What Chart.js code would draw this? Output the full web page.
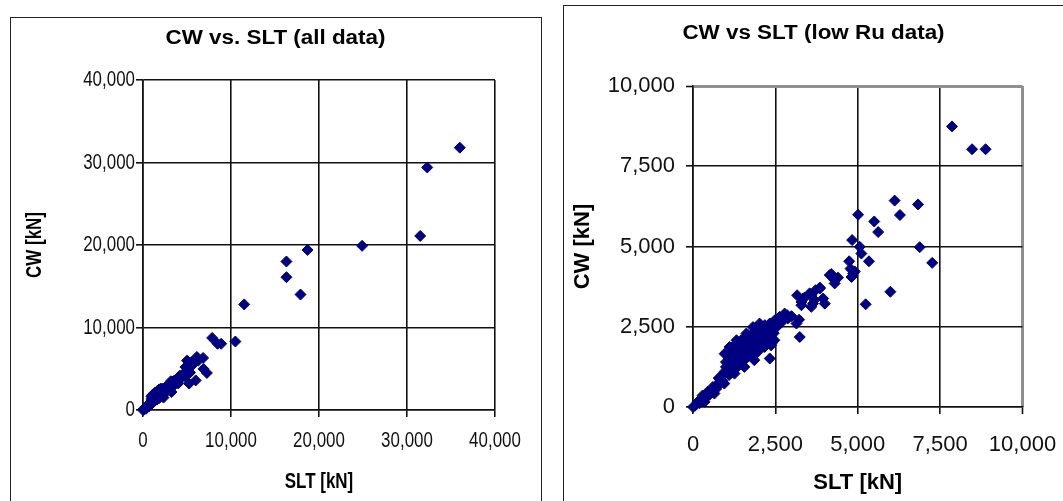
<!DOCTYPE html>
<html>
<head>
<meta charset="utf-8">
<script src="https://cdn.jsdelivr.net/npm/chart.js@4.4.1/dist/chart.umd.min.js"></script>
<style>
  html, body { margin: 0; padding: 0; background: #fff; width: 1063px; height: 501px; overflow: hidden; }
  .panel { position: absolute; border: 1.5px solid #222; box-sizing: border-box; }
  #p1 { left: 10px; top: 17px; width: 532px; height: 600px; }
  #p2 { left: 563px; top: 5px; width: 600px; height: 600px; }
  canvas { position: absolute; }
  #c1 { left: 11px; top: 18px; }
  #c2 { left: 564px; top: 6px; }
</style>
</head>
<body>
<div class="panel" id="p1"></div>
<div class="panel" id="p2"></div>
<canvas id="c1" width="529" height="483"></canvas>
<canvas id="c2" width="499" height="495"></canvas>
<script>
// ---- Data ----
// Low Ru data: SLT [kN] and CW [kN], paired by index
const lowRuSLT = [
  7860, 8470, 8880, 6120, 6830, 6280, 5010, 5500, 5620, 4830,
  5060, 5110, 6880, 7260, 5340, 4740, 4780, 4860, 4810, 4910,
  5990, 5240, 4200, 4300, 4400, 4150, 4300, 3850, 3720, 3590,
  3390, 3290, 3690, 3950, 4000, 3640, 3850, 3540, 3160, 3340,
  3590, 3290, 2780, 2990, 3220, 2630, 3140, 3240, 2480, 2330,
  2020, 1820, 2180, 1620, 1920, 2280, 1520, 2020, 2380, 1720,
  2880, 2680, 2580, 2860, 0, 60, 140, 200, 290, 350,
  300, 440, 500, 600, 650, 750, 700, 850, 950, 950,
  900, 1000, 1050, 1050, 1150, 1200, 1260, 1260, 1310, 1360,
  1460, 1460, 1560, 1560, 1610, 1660, 1760, 1810, 1860, 1860,
  1960, 2010, 2060, 2170, 2320, 2470, 2370, 2330, 960, 1110,
  1320, 1670, 1920, 2180, 400, 550, 800, 1100, 1400, 1700,
  2000, 2200, 1300, 1600, 1900, 2100, 2250, 1150, 1450, 1750,
  2400, 2550, 2450, 1200, 250, 100, 780, 1250, 1000, 1100,
  1350, 1500, 1650, 1800, 2050, 2150, 2300, 2600, 2700, 1900,
  2250, 1400, 1750
];
const lowRuCW = [
  8740, 8030, 8030, 6430, 6310, 5980, 5990, 5780, 5450, 5200,
  4990, 4780, 4980, 4490, 4540, 4540, 4310, 4160, 4050, 4220,
  3590, 3200, 4140, 3950, 4030, 4110, 3850, 3720, 3640, 3480,
  3410, 3270, 3330, 3380, 3220, 3220, 3690, 3540, 3480, 3380,
  3120, 3170, 2910, 2830, 2720, 2810, 2600, 2180, 2700, 2600,
  2600, 2490, 2440, 2290, 2240, 2340, 2080, 2030, 1980, 1870,
  2760, 2760, 2710, 2860, 0, 40, 160, 120, 360, 160,
  250, 470, 380, 620, 420, 730, 560, 940, 730, 1090,
  820, 1400, 1140, 1610, 1350, 1770, 1040, 1350, 1980, 1560,
  2080, 1660, 1460, 1250, 2180, 1770, 1820, 2290, 1980, 1460,
  1710, 2340, 2080, 1870, 2290, 2080, 1920, 1510, 1660, 1870,
  2080, 2240, 2450, 2550, 300, 500, 700, 1000, 1300, 1600,
  1900, 2100, 1200, 1500, 1750, 2200, 2000, 1550, 1800, 2050,
  2450, 2500, 2300, 1150, 200, 80, 900, 1600, 1250, 1500,
  1700, 1900, 1950, 2100, 2300, 2400, 2450, 2600, 2650, 2000,
  2250, 1450, 1700
];
// Additional points that appear only in the "all data" chart
const highRuSLT = [36000, 32300, 31500, 24900, 18700, 16300, 16300, 17900, 11500, 10500];
const highRuCW  = [31800, 29400, 21100, 19900, 19400, 18000, 16100, 14000, 12800, 8300];

// Tick values and labels
const allTicks = [0, 10000, 20000, 30000, 40000];
const allTickLabels = ['0', '10,000', '20,000', '30,000', '40,000'];
const lowTicks = [0, 2500, 5000, 7500, 10000];
const lowTickLabels = ['0', '2,500', '5,000', '7,500', '10,000'];

const titleAll = 'CW vs. SLT (all data)';
const titleLow = 'CW vs SLT (low Ru data)';
const xTitle = 'SLT [kN]';
const yTitle = 'CW [kN]';

// ---- Chart building ----
const FONT = "'Liberation Sans', Arial, Helvetica, sans-serif";
const MARK = '#000080';

function pairs(xs, ys) { return xs.map((x, i) => ({ x: x, y: ys[i] })); }

// Horizontal text-width adjustment (the reference's text is narrower / wider than Arial)
const textScale = {
  id: 'textScale',
  beforeInit(chart, args, opts) {
    const proto = CanvasRenderingContext2D.prototype.fillText;
    const map = opts.bySize || {};
    chart.ctx.fillText = function (text, x, y, maxWidth) {
      const m = /(\d+(?:\.\d+)?)px/.exec(this.font);
      const s = m && map[m[1]] ? map[m[1]] : 1;
      if (s === 1) return proto.call(this, text, x, y);
      this.save();
      this.translate(x, y);
      this.scale(s, 1);
      proto.call(this, text, 0, 0);
      this.restore();
    };
  }
};

function build(id, cfg) {
  const gridCol = (ctx) => (ctx.tick && ctx.tick.value === cfg.max && cfg.grayFrame) ? '#8f8f8f' : '#111';
  const gridW = (ctx) => (ctx.tick && ctx.tick.value === cfg.max && cfg.grayFrame) ? 3 : 1.6;
  const axis = (isX) => ({
    type: 'linear',
    min: 0, max: cfg.max,
    afterBuildTicks: (s) => { s.ticks = cfg.ticks.map(v => ({ value: v })); },
    afterFit: (s) => {
      if (isX) s.height = cfg.xH; else s.width = cfg.yW;
      s.paddingLeft = 0; s.paddingRight = 0; s.paddingTop = 0; s.paddingBottom = 0;
    },
    ticks: {
      autoSkip: false, maxRotation: 0,
      padding: isX ? cfg.xTickPad : cfg.yTickPad,
      color: '#111',
      font: { family: FONT, size: cfg.tickSize },
      callback: (v, i) => cfg.labels[i]
    },
    grid: {
      color: gridCol, lineWidth: gridW,
      tickLength: 7, tickColor: '#111', tickWidth: 1.6
    },
    border: { display: true, color: '#111', width: 1.6 },
    title: {
      display: true, text: isX ? xTitle : yTitle, color: '#000',
      font: { family: FONT, size: cfg.axisTitleSize, weight: 'bold' },
      padding: isX ? { top: 0, bottom: cfg.xTitlePad } : { top: cfg.yTitlePad, bottom: 0 }
    }
  });
  return new Chart(document.getElementById(id), {
    type: 'scatter',
    plugins: [textScale],
    data: {
      datasets: [{
        data: cfg.data,
        pointStyle: 'rectRot',
        pointRadius: cfg.radius,
        pointHoverRadius: cfg.radius,
        pointBackgroundColor: MARK,
        pointBorderColor: MARK,
        pointBorderWidth: 1,
        clip: false
      }]
    },
    options: {
      responsive: false,
      animation: false,
      events: [],
      layout: { padding: 0 },
      plugins: {
        legend: { display: false },
        tooltip: { enabled: false },
        textScale: { bySize: cfg.textScale },
        title: {
          display: true, text: cfg.title, color: '#000',
          font: { family: FONT, size: cfg.titleSize, weight: 'bold' },
          padding: { top: cfg.titleTop, bottom: cfg.titleBottom }
        }
      },
      scales: {
        x: axis(true),
        y: axis(false),
        // empty spacer on the right so the plot sits where the reference has it
        spacer: {
          type: 'linear', axis: 'y', position: 'right', display: true,
          ticks: { display: false }, grid: { display: false }, border: { display: false },
          afterFit: (s) => { s.width = cfg.padRight; s.paddingTop = 0; s.paddingBottom = 0; }
        }
      }
    }
  });
}

const allSLT = lowRuSLT.concat(highRuSLT);
const allCW = lowRuCW.concat(highRuCW);

build('c1', {
  data: pairs(allSLT, allCW), max: 40000, ticks: allTicks, labels: allTickLabels,
  title: titleAll, titleSize: 20, titleTop: 8, titleBottom: 30,
  tickSize: 22, axisTitleSize: 22,
  textScale: { '20': 1.12, '22': 0.77 },
  xH: 91, yW: 132, padRight: 45,
  xTickPad: 11, yTickPad: 1, xTitlePad: 6, yTitlePad: 11,
  radius: 5.5, grayFrame: false
});

build('c2', {
  data: pairs(lowRuSLT, lowRuCW), max: 10000, ticks: lowTicks, labels: lowTickLabels,
  title: titleLow, titleSize: 20, titleTop: 15, titleBottom: 41,
  tickSize: 22, axisTitleSize: 22,
  textScale: { '20': 1.12 },
  xH: 94, yW: 129, padRight: 40.5,
  xTickPad: 18, yTickPad: 11, xTitlePad: 5, yTitlePad: 6,
  radius: 5.5, grayFrame: true
});
</script>
</body>
</html>
